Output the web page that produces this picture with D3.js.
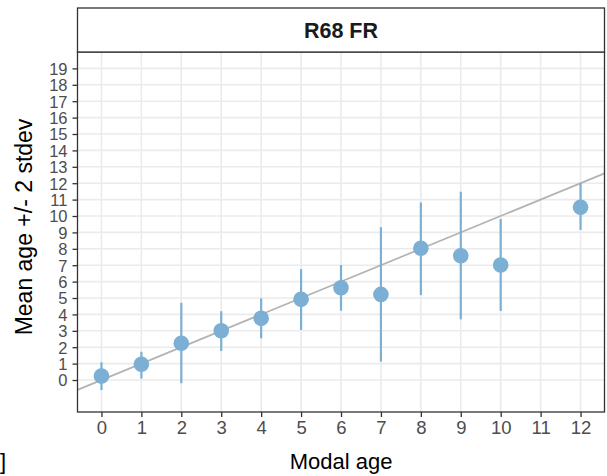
<!DOCTYPE html>
<html>
<head>
<meta charset="utf-8">
<script src="https://cdnjs.cloudflare.com/ajax/libs/d3/7.8.5/d3.min.js"></script>
<style>
    body { margin: 0; background: #fff; }
    text { font-family: "Liberation Sans", Arial, sans-serif; }
</style>
</head>
<body>
<div id="chart"></div>
<script>
// data
let modalAge = [0, 1, 2, 3, 4, 5, 6, 7, 8, 9, 10, 12];
let meanAge = [0.24, 0.96, 2.24, 3.0, 3.76, 4.92, 5.63, 5.22, 8.03, 7.58, 7.01, 10.53];
let lowerAge = [-0.61, 0.1, -0.2, 1.77, 2.54, 3.05, 4.23, 1.12, 5.18, 3.7, 4.21, 9.15];
let upperAge = [1.08, 1.73, 4.71, 4.2, 4.98, 6.76, 7.01, 9.31, 10.83, 11.48, 9.82, 12.0];
let xTicks = d3.range(0, 13);
let yTicks = d3.range(0, 20);
let stripLabel = "R68 FR";

let config = {
    width: 607,
    height: 476,
    panel: {left: 77.5, right: 604.5, top: 52, bottom: 412},
    stripTop: 8,
    pointColor: "#7BAFD4",
    lineColor: "#B3B3B3",
    gridColor: "#EBEBEB",
    borderColor: "#333333"
};

let points = modalAge.map((m, i) => ({x: m, y: meanAge[i], lo: lowerAge[i], hi: upperAge[i]}));

let p = config.panel;

let x = d3.scaleLinear()
    .domain([-0.6, 12.6])
    .range([p.left, p.right]);

let y = d3.scaleLinear()
    .domain([-1.95, 20])
    .range([p.bottom, p.top]);

let svg = d3.select("#chart")
    .append("svg")
    .attr("width", config.width)
    .attr("height", config.height);

// panel background + grid
svg.append("rect")
    .attr("x", p.left).attr("y", p.top)
    .attr("width", p.right - p.left).attr("height", p.bottom - p.top)
    .attr("fill", "#fff");

let grid = svg.append("g");
grid.selectAll("line.gx")
    .data(xTicks)
    .enter().append("line")
    .attr("class", "gx")
    .attr("x1", (d) => x(d)).attr("x2", (d) => x(d))
    .attr("y1", p.top).attr("y2", p.bottom)
    .attr("stroke", config.gridColor)
    .attr("stroke-width", 1.6);
grid.selectAll("line.gy")
    .data(yTicks)
    .enter().append("line")
    .attr("class", "gy")
    .attr("y1", (d) => y(d)).attr("y2", (d) => y(d))
    .attr("x1", p.left).attr("x2", p.right)
    .attr("stroke", config.gridColor)
    .attr("stroke-width", 1.6);

// clip for marks
svg.append("clipPath").attr("id", "clip")
    .append("rect")
    .attr("x", p.left).attr("y", p.top)
    .attr("width", p.right - p.left).attr("height", p.bottom - p.top);

let marks = svg.append("g").attr("clip-path", "url(#clip)");

// 1:1 reference line
marks.append("line")
    .attr("x1", x(-0.6)).attr("y1", y(-0.6))
    .attr("x2", x(12.6)).attr("y2", y(12.6))
    .attr("stroke", config.lineColor)
    .attr("stroke-width", 1.7);

// error bars
marks.selectAll("line.err")
    .data(points)
    .enter().append("line")
    .attr("class", "err")
    .attr("x1", (d) => x(d.x)).attr("x2", (d) => x(d.x))
    .attr("y1", (d) => y(d.lo)).attr("y2", (d) => y(d.hi))
    .attr("stroke", config.pointColor)
    .attr("stroke-width", 2.2);

// points
marks.selectAll("circle")
    .data(points)
    .enter().append("circle")
    .attr("cx", (d) => x(d.x))
    .attr("cy", (d) => y(d.y))
    .attr("r", 7.8)
    .attr("fill", config.pointColor);

// panel border
svg.append("rect")
    .attr("x", p.left).attr("y", p.top)
    .attr("width", p.right - p.left).attr("height", p.bottom - p.top)
    .attr("fill", "none")
    .attr("stroke", config.borderColor)
    .attr("stroke-width", 1.3);

// strip
svg.append("rect")
    .attr("x", p.left).attr("y", config.stripTop)
    .attr("width", p.right - p.left).attr("height", p.top - config.stripTop)
    .attr("fill", "#fff")
    .attr("stroke", config.borderColor)
    .attr("stroke-width", 1.3);
svg.append("text")
    .attr("x", (p.left + p.right) / 2)
    .attr("y", 38.3)
    .attr("text-anchor", "middle")
    .attr("font-size", 21.5)
    .attr("font-weight", "bold")
    .attr("fill", "#1a1a1a")
    .text(stripLabel);

// axes
let xAxis = d3.axisBottom(x)
    .tickValues(xTicks)
    .tickSize(5)
    .tickPadding(4)
    .tickFormat(d3.format("d"));
let yAxis = d3.axisLeft(y)
    .tickValues(yTicks)
    .tickSize(5)
    .tickPadding(5)
    .tickFormat(d3.format("d"));

let gx = svg.append("g")
    .attr("transform", `translate(0,${p.bottom})`)
    .call(xAxis);
let gy = svg.append("g")
    .attr("transform", `translate(${p.left},0)`)
    .call(yAxis);

[gx, gy].forEach((g) => {
    g.select(".domain").remove();
    g.selectAll(".tick line").attr("stroke", config.borderColor).attr("stroke-width", 1.3);
    g.selectAll(".tick text")
        .attr("fill", "#4D4D4D")
        .attr("font-size", 18.5)
        .attr("font-family", "Liberation Sans, Arial, sans-serif");
});
// y labels sit 16.4px apart, so keep them a little smaller
gy.selectAll(".tick text")
    .attr("font-size", 16.5)
    .attr("dy", "0.36em");

// axis titles
svg.append("text")
    .attr("x", (p.left + p.right) / 2)
    .attr("y", 469)
    .attr("text-anchor", "middle")
    .attr("font-size", 22)
    .attr("fill", "#000")
    .text("Modal age");

svg.append("text")
    .attr("transform", `translate(32,${(p.top + p.bottom) / 2 - 5}) rotate(-90)`)
    .attr("text-anchor", "middle")
    .attr("font-size", 23)
    .attr("fill", "#000")
    .text("Mean age +/- 2 stdev");

// stray bracket at the bottom left of the reference
svg.append("text")
    .attr("x", 0)
    .attr("y", 469)
    .attr("font-size", 22)
    .attr("fill", "#000")
    .text("]");
</script>
</body>
</html>
